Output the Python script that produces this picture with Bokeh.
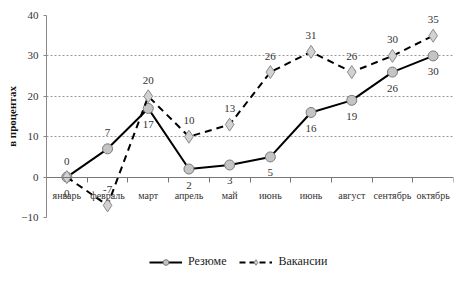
from bokeh.plotting import figure
from bokeh.layouts import column
from bokeh.models import Range1d, FixedTicker, ColumnDataSource, Legend, LegendItem
from bokeh.core.properties import value
from bokeh.embed import file_html
from bokeh.resources import INLINE

months = ["январь", "февраль", "март", "апрель", "май", "июнь", "июнь", "август", "сентябрь", "октябрь"]
resume = [0, 7, 17, 2, 3, 5, 16, 19, 26, 30]
vacancies = [0, -7, 20, 10, 13, 26, 31, 26, 30, 35]
resume_label_above = [True, True, False, False, False, False, False, False, False, False]
vac_label_above = [False, True, True, True, True, True, True, True, True, True]
series_names = ["Резюме", "Вакансии"]

FONT = "Liberation Serif"
x = list(range(len(months)))

p = figure(width=458, height=250, output_backend="svg", toolbar_location=None,
           x_range=Range1d(-0.5, len(months) - 0.5), y_range=Range1d(-10, 40),
           min_border_left=46, min_border_right=5, min_border_top=15, min_border_bottom=33)
p.outline_line_color = None
p.background_fill_color = "white"

p.xgrid.grid_line_color = None
p.ygrid.grid_line_color = "#9a9a9a"
p.ygrid.grid_line_dash = "2 2"
p.ygrid.grid_line_width = 1

p.yaxis.ticker = FixedTicker(ticks=[-10, 0, 10, 20, 30, 40])
p.yaxis.axis_line_color = "#888888"
p.yaxis.major_tick_line_color = "#888888"
p.yaxis.major_tick_out = 3
p.yaxis.major_tick_in = 0
p.yaxis.minor_tick_line_color = None
p.yaxis.major_label_standoff = 5
p.yaxis.major_label_text_font = FONT
p.yaxis.major_label_text_font_size = "11px"
p.yaxis.major_label_text_color = "#333333"
p.yaxis.axis_label = "в процентах"
p.yaxis.axis_label_text_font = FONT
p.yaxis.axis_label_text_font_style = "bold"
p.yaxis.axis_label_text_font_size = "11px"
p.yaxis.axis_label_text_color = "#111111"
p.yaxis.axis_label_standoff = 0

p.xaxis.fixed_location = 0
p.xaxis.ticker = FixedTicker(ticks=x, minor_ticks=[i - 0.5 for i in range(len(months) + 1)])
p.xaxis.major_label_overrides = {i: m for i, m in enumerate(months)}
p.xaxis.axis_line_color = "#777777"
p.xaxis.major_tick_line_color = None
p.xaxis.major_tick_out = 0
p.xaxis.minor_tick_line_color = "#777777"
p.xaxis.minor_tick_out = 5
p.xaxis.minor_tick_in = 0
p.xaxis.major_label_standoff = 8
p.xaxis.major_label_text_font = FONT
p.xaxis.major_label_text_font_size = "10px"
p.xaxis.major_label_text_color = "#333333"

src_r = ColumnDataSource(dict(x=x, y=resume, t=[str(v) for v in resume],
                              off=[-16 if a else 16 for a in resume_label_above]))
src_v = ColumnDataSource(dict(x=x, y=vacancies, t=[str(v) for v in vacancies],
                              off=[-16 if a else 16 for a in vac_label_above]))

p.line("x", "y", source=src_r, line_color="black", line_width=2)
p.scatter("x", "y", source=src_r, marker="circle", size=10,
          fill_color="#c4c4c4", line_color="#7a7a7a", line_width=1)
p.line("x", "y", source=src_v, line_color="black", line_width=2, line_dash="7 5")
p.scatter("x", "y", source=src_v, marker="diamond", size=13,
          fill_color="#d2d2d2", line_color="#8a8a8a", line_width=1)

for src in (src_r, src_v):
    p.text("x", "y", text="t", source=src, y_offset="off", text_align="center",
           text_baseline="middle", text_font=value(FONT), text_font_size="11px",
           text_color="#333333")

# legend strip below the chart (its renderers share the data but lie outside the strip's view)
lf = figure(width=458, height=19, output_backend="svg", toolbar_location=None,
            x_range=Range1d(1000, 1001), y_range=Range1d(1000, 1001),
            min_border_left=0, min_border_right=0, min_border_top=0, min_border_bottom=0,
            x_axis_location=None, y_axis_location=None)
lf.outline_line_color = None
lf.xgrid.visible = False
lf.ygrid.visible = False
lr = lf.line("x", "y", source=src_r, line_color="black", line_width=2)
mr = lf.scatter("x", "y", source=src_r, marker="circle", size=7,
                fill_color="#c4c4c4", line_color="#7a7a7a", line_width=1)
lv = lf.line("x", "y", source=src_v, line_color="black", line_width=2, line_dash="6 4")
mv = lf.scatter("x", "y", source=src_v, marker="diamond", size=9,
                fill_color="#d2d2d2", line_color="#8a8a8a", line_width=1)
legend = Legend(items=[LegendItem(label=series_names[0], renderers=[lr, mr]),
                       LegendItem(label=series_names[1], renderers=[lv, mv])],
                orientation="horizontal", location=(103, 0),
                label_text_font=FONT, label_text_font_size="12px", label_text_color="#222222",
                glyph_width=33, glyph_height=14, spacing=13, padding=2, margin=0,
                label_standoff=6, border_line_color=None, background_fill_alpha=0)
lf.add_layout(legend, "center")

layout = column(p, lf, spacing=0)
open("out.html", "w").write(file_html(layout, INLINE))
